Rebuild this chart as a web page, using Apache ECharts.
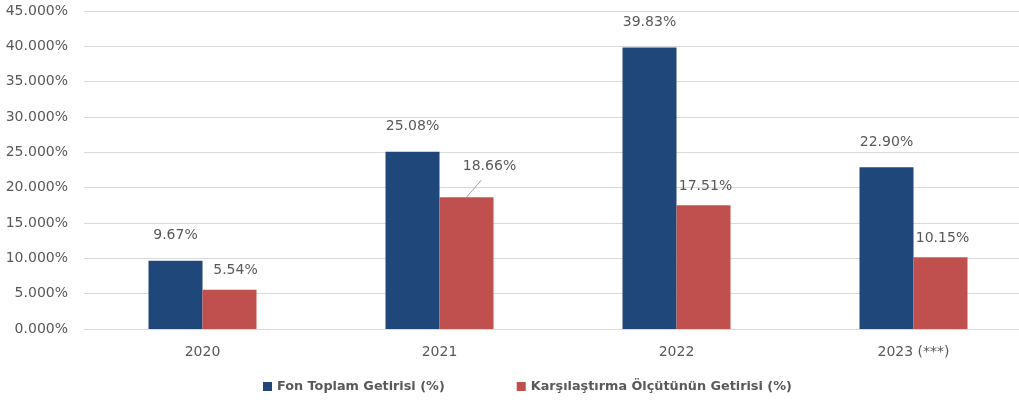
<!DOCTYPE html>
<html><head><meta charset="utf-8">
<script src="https://cdn.jsdelivr.net/npm/echarts@6/dist/echarts.min.js"></script>
<style>html,body{margin:0;padding:0;background:#fff}#c{width:1019px;height:406px}</style>
</head><body><div id="c"></div>
<script>
const categories = ['2020', '2021', '2022', '2023 (***)'];
const fundReturn = [9.67, 25.08, 39.83, 22.90];
const benchmarkReturn = [5.54, 18.66, 17.51, 10.15];
const seriesNames = ['Fon Toplam Getirisi (%)', 'Karşılaştırma Ölçütünün Getirisi (%)'];

const font = 'DejaVu Sans';
const fs = 14;
const barW = 54;
const chart = echarts.init(document.getElementById('c'));
chart.setOption({
  animation: false,
  textStyle: { fontFamily: font },
  grid: { left: 84, right: -13, top: 11, bottom: 77, outerBoundsMode: 'none', containLabel: false },
  legend: {
    bottom: 8, left: 258, itemWidth: 9, itemHeight: 9, itemGap: 72,
    icon: 'rect',
    textStyle: { fontFamily: font, fontWeight: 'bold', fontSize: 12.8, color: '#595959' },
    data: seriesNames
  },
  xAxis: {
    type: 'category', data: categories,
    axisLine: { lineStyle: { color: '#d9d9d9' } },
    axisTick: { show: false },
    axisLabel: { color: '#595959', fontSize: fs, fontFamily: font, margin: 16 }
  },
  yAxis: {
    type: 'value', min: 0, max: 45, interval: 5,
    axisLabel: { color: '#595959', fontSize: fs, fontFamily: font, margin: 16,
      formatter: v => v.toFixed(3) + '%' },
    splitLine: { lineStyle: { color: '#d9d9d9' } },
    axisLine: { show: false }, axisTick: { show: false }
  },
  series: [
    {
      name: seriesNames[0], type: 'bar', data: fundReturn,
      barWidth: barW, barGap: '0%',
      itemStyle: { color: '#1F477A' },
      label: { show: true, position: 'top', distance: 18, color: '#595959', fontSize: fs, fontFamily: font,
        formatter: p => p.value.toFixed(2) + '%' }
    },
    {
      name: seriesNames[1], type: 'bar',
      barWidth: barW,
      itemStyle: { color: '#C0504D' },
      label: { show: true, position: 'top', distance: 12, color: '#595959', fontSize: fs, fontFamily: font,
        formatter: p => p.value.toFixed(2) + '%' },
      labelLayout: p => p.dataIndex === 1 ? { dx: 23, dy: -12 } : (p.dataIndex === 0 ? { dx: 6 } : { dx: 2 }),
      data: benchmarkReturn
    }
  ]
});
// leader line for the moved 18.66% label, anchored through the axis scales
const barTop = chart.convertToPixel({ gridIndex: 0 }, [categories[1], benchmarkReturn[1]]);
const lx0 = barTop[0] + barW / 2, ly0 = barTop[1];
chart.setOption({
  graphic: [{
    type: 'line', silent: true,
    shape: { x1: lx0, y1: ly0, x2: lx0 + 15, y2: ly0 - 17 },
    style: { stroke: '#a6a6a6', lineWidth: 1 }
  }]
});
</script></body></html>
